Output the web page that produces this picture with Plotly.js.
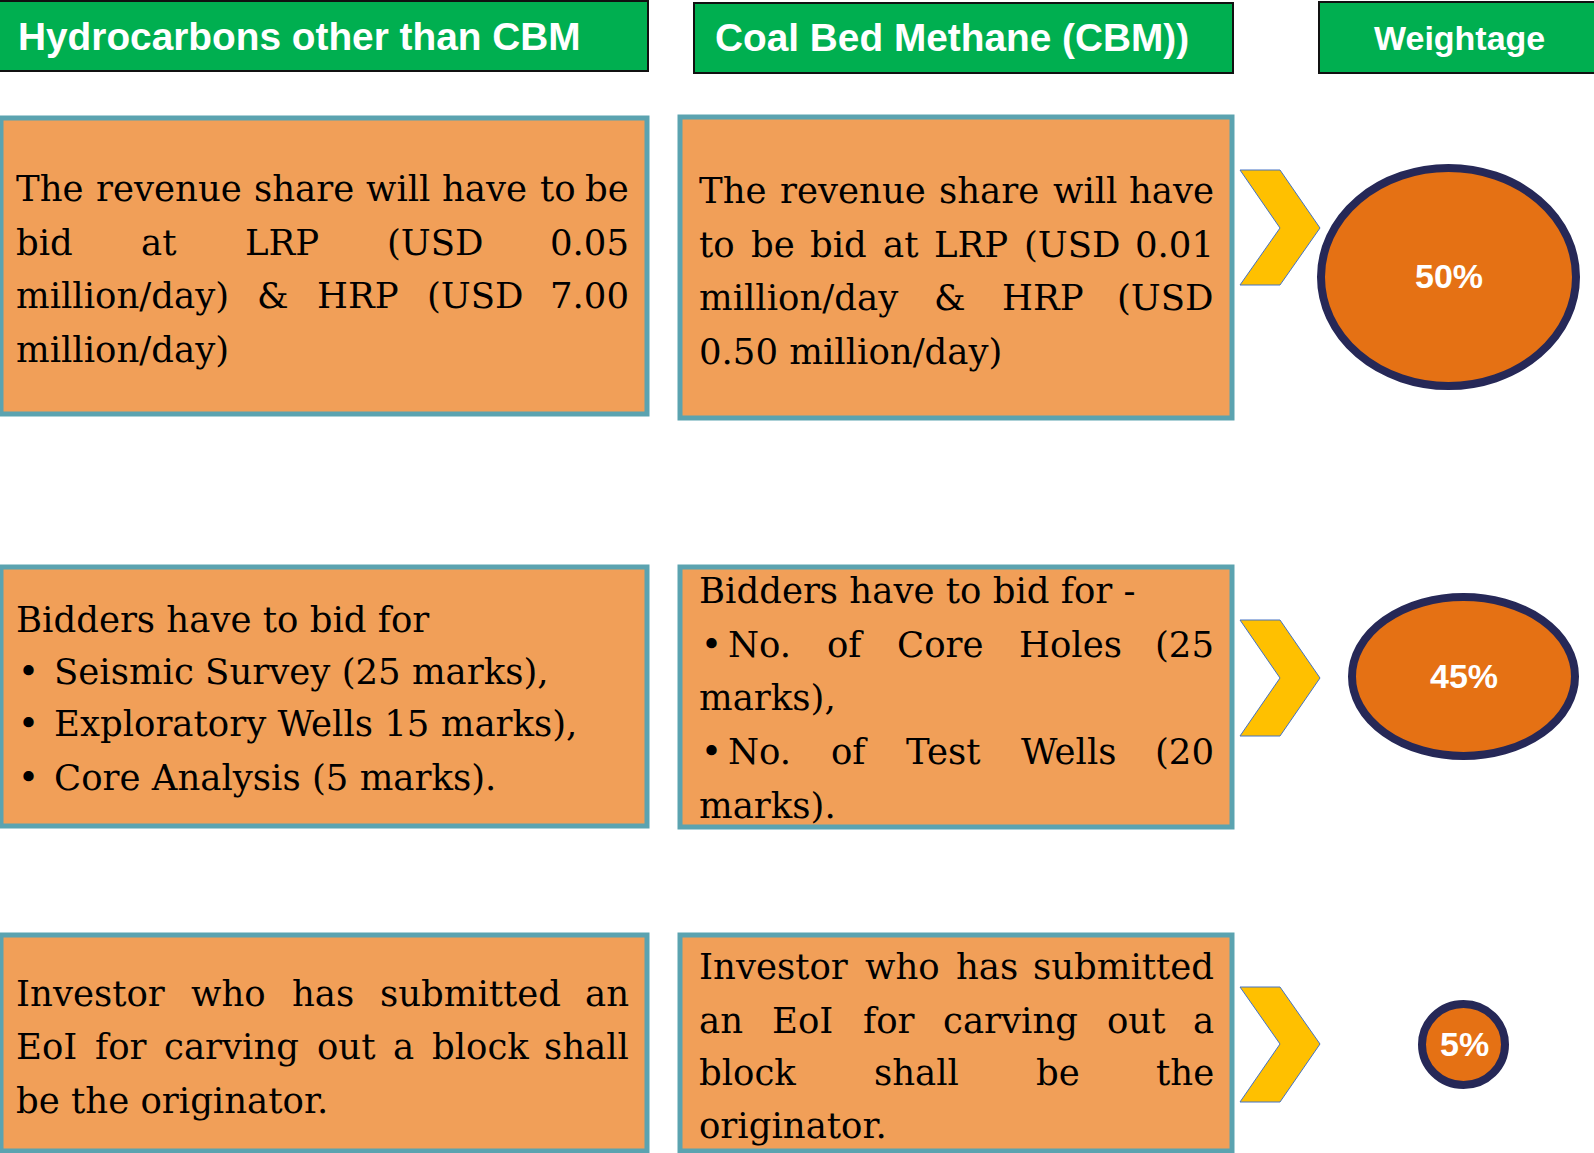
<!DOCTYPE html>
<html>
<head>
<meta charset="utf-8">
<script src="https://cdn.plot.ly/plotly-3.0.1.min.js"></script>
<style>html,body{margin:0;padding:0;background:#fff;}#chart{width:1594px;height:1153px;}</style>
</head>
<body>
<div id="chart"></div>
<script>
// ---------- content ----------
const headers = ["Hydrocarbons other than CBM", "Coal Bed Methane (CBM))", "Weightage"];

const hcRevenue = ["The revenue share will have to be", "bid at LRP (USD 0.05", "million/day) & HRP (USD 7.00", "million/day)"];
const hcRevenueJustify = [1, 1, 1, 0];
const cbmRevenue = ["The revenue share will have", "to be bid at LRP (USD 0.01", "million/day & HRP (USD", "0.50 million/day)"];
const cbmRevenueJustify = [1, 1, 1, 0];

const hcWork = ["Bidders have to bid for", "• Seismic Survey (25 marks),", "• Exploratory Wells 15 marks),", "• Core Analysis (5 marks)."];
const hcWorkJustify = [0, 0, 0, 0];
const cbmWork = ["Bidders have to bid for -", "• No. of Core Holes (25", "marks),", "• No. of Test Wells (20", "marks)."];
const cbmWorkJustify = [0, 1, 0, 1, 0];

const hcEoi = ["Investor who has submitted an", "EoI for carving out a block shall", "be the originator."];
const hcEoiJustify = [1, 1, 0];
const cbmEoi = ["Investor who has submitted", "an EoI for carving out a", "block shall be the", "originator."];
const cbmEoiJustify = [1, 1, 1, 0];

const weights = [50, 45, 5];

// ---------- layout / style ----------
const W = 1594, H = 1153;
const GREEN = "#00AF50", ORANGE = "#F19F58", TEAL = "#5BA3B0", YELLOW = "#FFC000",
      DEEP = "#E57114", NAVY = "#262857";
const BODY_FONT = "DejaVu Serif", BODY_SIZE = 35.5;
const HEAD_FONT = "Liberation Sans, Arial, sans-serif";

const headerBoxes = [
  {x0: -4, x1: 648, y0: 1, y1: 71, tx: 17, ty: 36, anchor: "left", size: 38.8},
  {x0: 694, x1: 1233, y0: 3, y1: 73, tx: 714, ty: 37, anchor: "left", size: 38.8},
  {x0: 1319, x1: 1600, y0: 2, y1: 73, tx: 1459, ty: 38, anchor: "center", size: 34}
];

const boxes = [
  {lines: hcRevenue, just: hcRevenueJustify, x0: 1, x1: 647, y0: 118, y1: 414, tl: 15, tr: 630, ys: [188, 242, 295, 349], hang: 36},
  {lines: cbmRevenue, just: cbmRevenueJustify, x0: 680, x1: 1232, y0: 117, y1: 418, tl: 698, tr: 1215, ys: [190, 244, 297, 351], hang: 28},
  {lines: hcWork, just: hcWorkJustify, x0: 1, x1: 647, y0: 567, y1: 826, tl: 15, tr: 630, ys: [619, 671, 723, 777], hang: 38},
  {lines: cbmWork, just: cbmWorkJustify, x0: 680, x1: 1232, y0: 567, y1: 827, tl: 698, tr: 1215, ys: [590, 644, 697, 751, 805], hang: 29},
  {lines: hcEoi, just: hcEoiJustify, x0: 1, x1: 647, y0: 935, y1: 1151, tl: 15, tr: 630, ys: [993, 1046, 1100], hang: 36},
  {lines: cbmEoi, just: cbmEoiJustify, x0: 680, x1: 1232, y0: 935, y1: 1151, tl: 698, tr: 1215, ys: [966, 1020, 1072, 1125], hang: 28}
];

const chevrons = [
  {top: 170, mid: 228, bot: 285},
  {top: 620, mid: 678, bot: 736},
  {top: 987, mid: 1044, bot: 1102}
];
const chevX = [1240, 1280, 1320];

const ovals = [
  {x0: 1321, x1: 1576, y0: 168, y1: 386, cx: 1449, cy: 276},
  {x0: 1352, x1: 1575, y0: 597, y1: 756, cx: 1464, cy: 676},
  {x0: 1422, x1: 1505, y0: 1004, y1: 1085, cx: 1464, cy: 1044}
];

// ---------- build ----------
const ctx = document.createElement("canvas").getContext("2d");
ctx.font = BODY_SIZE + 'px "' + BODY_FONT + '"';
const mw = s => ctx.measureText(s).width;
const esc = s => s.replace(/&/g, "&amp;");

const shapes = [], annotations = [];

function txt(s, x, y, anchor) {
  annotations.push({text: esc(s), x: x, y: y, xref: "x", yref: "y", xanchor: anchor, yanchor: "middle",
    showarrow: false, borderpad: 0, font: {family: BODY_FONT, size: BODY_SIZE, color: "#000"}});
}

function addLine(line, xl, xr, y, just, hang) {
  let x = xl;
  if (line.startsWith("• ")) {
    txt("•", xl + 2, y, "left");
    x = xl + hang;
    line = line.slice(2);
  }
  if (!just) { txt(line, x, y, "left"); return; }
  const words = line.split(" ");
  const total = words.reduce((a, s) => a + mw(s), 0);
  const gap = Math.max(mw(" ") * 0.6, (xr - x - total) / (words.length - 1));
  let cx = x;
  words.forEach((wd, i) => {
    if (i === words.length - 1) txt(wd, xr, y, "right");
    else txt(wd, cx, y, "left");
    cx += mw(wd) + gap;
  });
}

headers.forEach((h, i) => {
  const b = headerBoxes[i];
  shapes.push({type: "rect", xref: "x", yref: "y", x0: b.x0, x1: b.x1, y0: b.y0, y1: b.y1,
    fillcolor: GREEN, line: {color: "#111", width: 2}});
  annotations.push({text: "<b>" + h + "</b>", x: b.tx, y: b.ty, xref: "x", yref: "y", xanchor: b.anchor,
    yanchor: "middle", showarrow: false, borderpad: 0, font: {family: HEAD_FONT, size: b.size, color: "#fff"}});
});

boxes.forEach(b => {
  shapes.push({type: "rect", xref: "x", yref: "y", x0: b.x0, x1: b.x1, y0: b.y0, y1: b.y1,
    fillcolor: ORANGE, line: {color: TEAL, width: 5}});
  b.lines.forEach((ln, i) => addLine(ln, b.tl, b.tr, b.ys[i], b.just[i], b.hang));
});

chevrons.forEach(c => {
  const [a, m, t] = chevX;
  shapes.push({type: "path", xref: "x", yref: "y",
    path: `M ${a} ${c.top} L ${m} ${c.top} L ${t} ${c.mid} L ${m} ${c.bot} L ${a} ${c.bot} L ${m} ${c.mid} Z`,
    fillcolor: YELLOW, line: {color: "#4472C4", width: 1}});
});

weights.forEach((v, i) => {
  const o = ovals[i];
  shapes.push({type: "circle", xref: "x", yref: "y", x0: o.x0, x1: o.x1, y0: o.y0, y1: o.y1,
    fillcolor: DEEP, line: {color: NAVY, width: 8}});
  annotations.push({text: "<b>" + v + "%</b>", x: o.cx, y: o.cy, xref: "x", yref: "y", xanchor: "center",
    yanchor: "middle", showarrow: false, font: {family: HEAD_FONT, size: 34, color: "#fff"}});
});

const layout = {
  width: W, height: H, margin: {l: 0, r: 0, t: 0, b: 0, pad: 0},
  paper_bgcolor: "#fff", plot_bgcolor: "#fff", showlegend: false,
  xaxis: {range: [0, W], visible: false, fixedrange: true},
  yaxis: {range: [H, 0], visible: false, fixedrange: true},
  shapes: shapes, annotations: annotations
};

Plotly.newPlot("chart", [{x: [], y: [], type: "scatter", hoverinfo: "skip"}], layout,
  {staticPlot: true, displayModeBar: false});
</script>
</body>
</html>
